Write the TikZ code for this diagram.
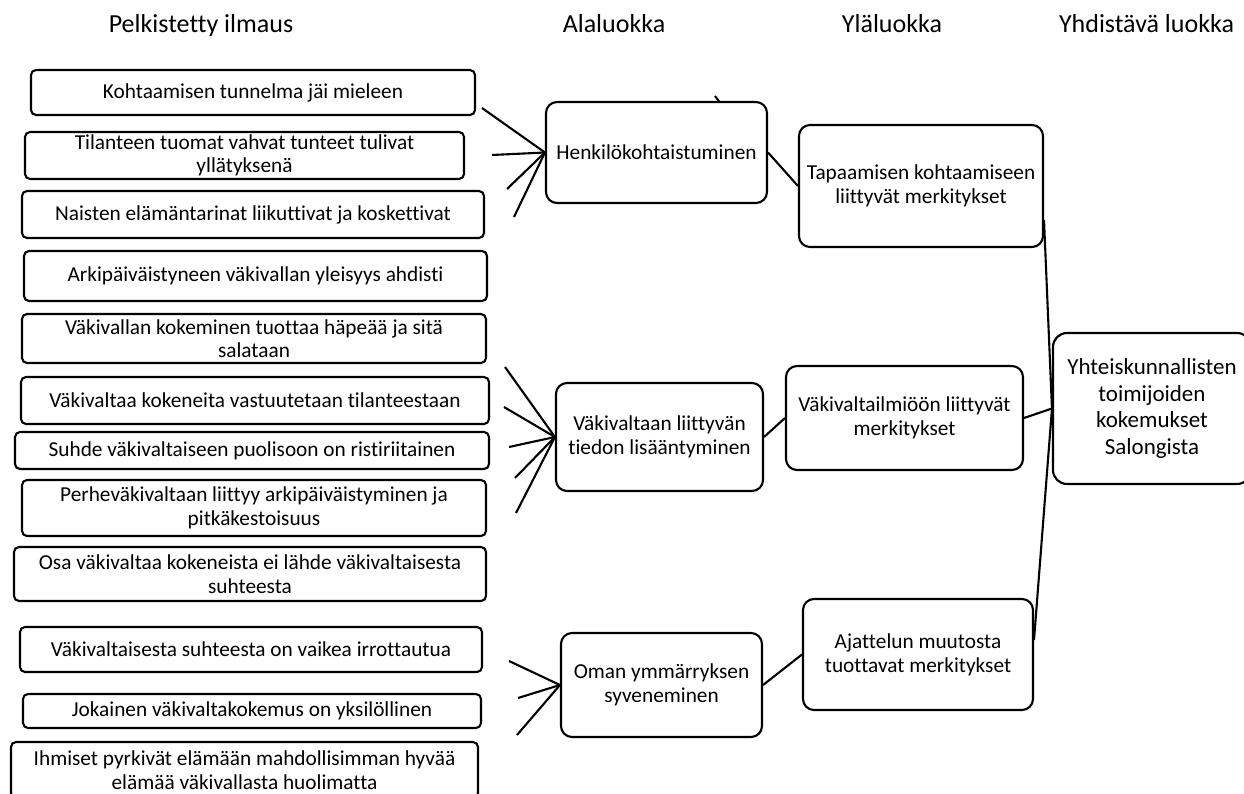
\documentclass[tikz,border=0pt]{standalone}
\usepackage{fontspec}
\setmainfont{Carlito}[Ligatures={NoCommon}]
\begin{document}
\begin{tikzpicture}[x=1pt,y=-1pt,
  lbox/.style={draw, line width=2.1pt, rounded corners=5pt, inner sep=0pt, align=center, font=\fontsize{21.3}{23.5}\selectfont},
  mbox/.style={draw, line width=2.1pt, rounded corners=11pt, inner sep=0pt, align=center, font=\fontsize{21.3}{24}\selectfont},
  hbox/.style={draw, line width=2.1pt, rounded corners=14pt, inner sep=0pt, align=center, font=\fontsize{23}{26.5}\selectfont},
  hdr/.style={anchor=base, inner sep=0pt, font=\fontsize{26}{30}\selectfont},
  conn/.style={line width=2.1pt}]
\path[use as bounding box] (0,0) rectangle (1244,794);
\clip (0,0) rectangle (1244,794);

% headers
\node[hdr] (h1) at (201,33) {Pelkistetty ilmaus};
\node[hdr] (h2) at (614,33) {Alaluokka};
\node[hdr] (h3) at (892,33) {Yläluokka};
\node[hdr] (h4) at (1146.5,33) {Yhdistävä luokka};

% left column
\node[lbox, minimum width=444pt, minimum height=45pt] (b1) at (253,92.5) {Kohtaamisen tunnelma jäi mieleen};
\node[lbox, minimum width=439pt, minimum height=47pt] (b2) at (244.5,155.5) {Tilanteen tuomat vahvat tunteet tulivat\\yllätyksenä};
\node[lbox, minimum width=462pt, minimum height=47pt] (b3) at (253,214.5) {Naisten elämäntarinat liikuttivat ja koskettivat};
\node[lbox, minimum width=463pt, minimum height=50pt] (b4) at (255.5,276) {Arkipäiväistyneen väkivallan yleisyys ahdisti};
\node[lbox, minimum width=464pt, minimum height=49pt] (b5) at (254,338.5) {Väkivallan kokeminen tuottaa häpeää ja sitä\\salataan};
\node[lbox, minimum width=468pt, minimum height=47pt] (b6) at (255,400.5) {Väkivaltaa kokeneita vastuutetaan tilanteestaan};
\node[lbox, minimum width=474pt, minimum height=37pt] (b7) at (252,450.5) {Suhde väkivaltaiseen puolisoon on ristiriitainen};
\node[lbox, minimum width=464pt, minimum height=56pt] (b8) at (254,508) {Perheväkivaltaan liittyy arkipäiväistyminen ja\\pitkäkestoisuus};
\node[lbox, minimum width=472pt, minimum height=54pt] (b9) at (250,574) {Osa väkivaltaa kokeneista ei lähde väkivaltaisesta\\suhteesta};
\node[lbox, minimum width=462pt, minimum height=45pt] (b10) at (251,649.5) {Väkivaltaisesta suhteesta on vaikea irrottautua};
\node[lbox, minimum width=458pt, minimum height=34pt] (b11) at (252,711) {Jokainen väkivaltakokemus on yksilöllinen};
\node[lbox, minimum width=467pt, minimum height=56pt] (b12) at (244.5,770) {Ihmiset pyrkivät elämään mahdollisimman hyvää\\elämää väkivallasta huolimatta};

% middle column (Alaluokka)
\node[mbox, minimum width=221pt, minimum height=101pt] (henk) at (656.5,152.5) {Henkilökohtaistuminen};
\node[mbox, minimum width=207pt, minimum height=108pt] (vak) at (659.5,437) {Väkivaltaan liittyvän\\tiedon lisääntyminen};
\node[mbox, minimum width=201pt, minimum height=104pt] (oman) at (661.5,685) {Oman ymmärryksen\\syveneminen};

% Yläluokka
\node[mbox, minimum width=244pt, minimum height=122pt] (tap) at (921,186) {Tapaamisen kohtaamiseen\\liittyvät merkitykset};
\node[mbox, minimum width=237pt, minimum height=104pt] (vakil) at (904.5,418) {Väkivaltailmiöön liittyvät\\merkitykset};
\node[mbox, minimum width=230pt, minimum height=111pt] (ajat) at (918,654.5) {Ajattelun muutosta\\tuottavat merkitykset};

% Yhdistävä luokka
\node[hbox, minimum width=198pt, minimum height=151pt] (yht) at (1152,408.5) {Yhteiskunnallisten\\toimijoiden\\kokemukset\\Salongista};

% fan coordinates
\coordinate (hs1) at (482,108);
\coordinate (hs2) at (492,155);
\coordinate (hs3) at (507,189);
\coordinate (hs4) at (514,217);
\coordinate (vs1) at (505,367);
\coordinate (vs2) at (504,407);
\coordinate (vs3) at (509,447);
\coordinate (vs4) at (515,478);
\coordinate (vs5) at (516,513);
\coordinate (os1) at (509,661);
\coordinate (os2) at (518,698);
\coordinate (os3) at (517,735);
\coordinate (tickA) at (715,96);
\coordinate (tickB) at (719.5,102);
\coordinate (tapOut) at (1044,220);
\coordinate (ajOut) at (1034,640);

\foreach \s in {hs1,hs2,hs3,hs4} \draw[conn] (\s) -- (henk.west);
\foreach \s in {vs1,vs2,vs3,vs4,vs5} \draw[conn] (\s) -- (vak.west);
\foreach \s in {os1,os2,os3} \draw[conn] (\s) -- (oman.west);
\draw[conn] (tickA) -- (tickB);

\draw[conn] (henk.east) -- (tap.west);
\draw[conn] (vak.east) -- (vakil.west);
\draw[conn] (oman.east) -- (ajat.west);

\draw[conn] (tapOut) -- (yht.west);
\draw[conn] (vakil.east) -- (yht.west);
\draw[conn] (ajOut) -- (yht.west);
\end{tikzpicture}
\end{document}
